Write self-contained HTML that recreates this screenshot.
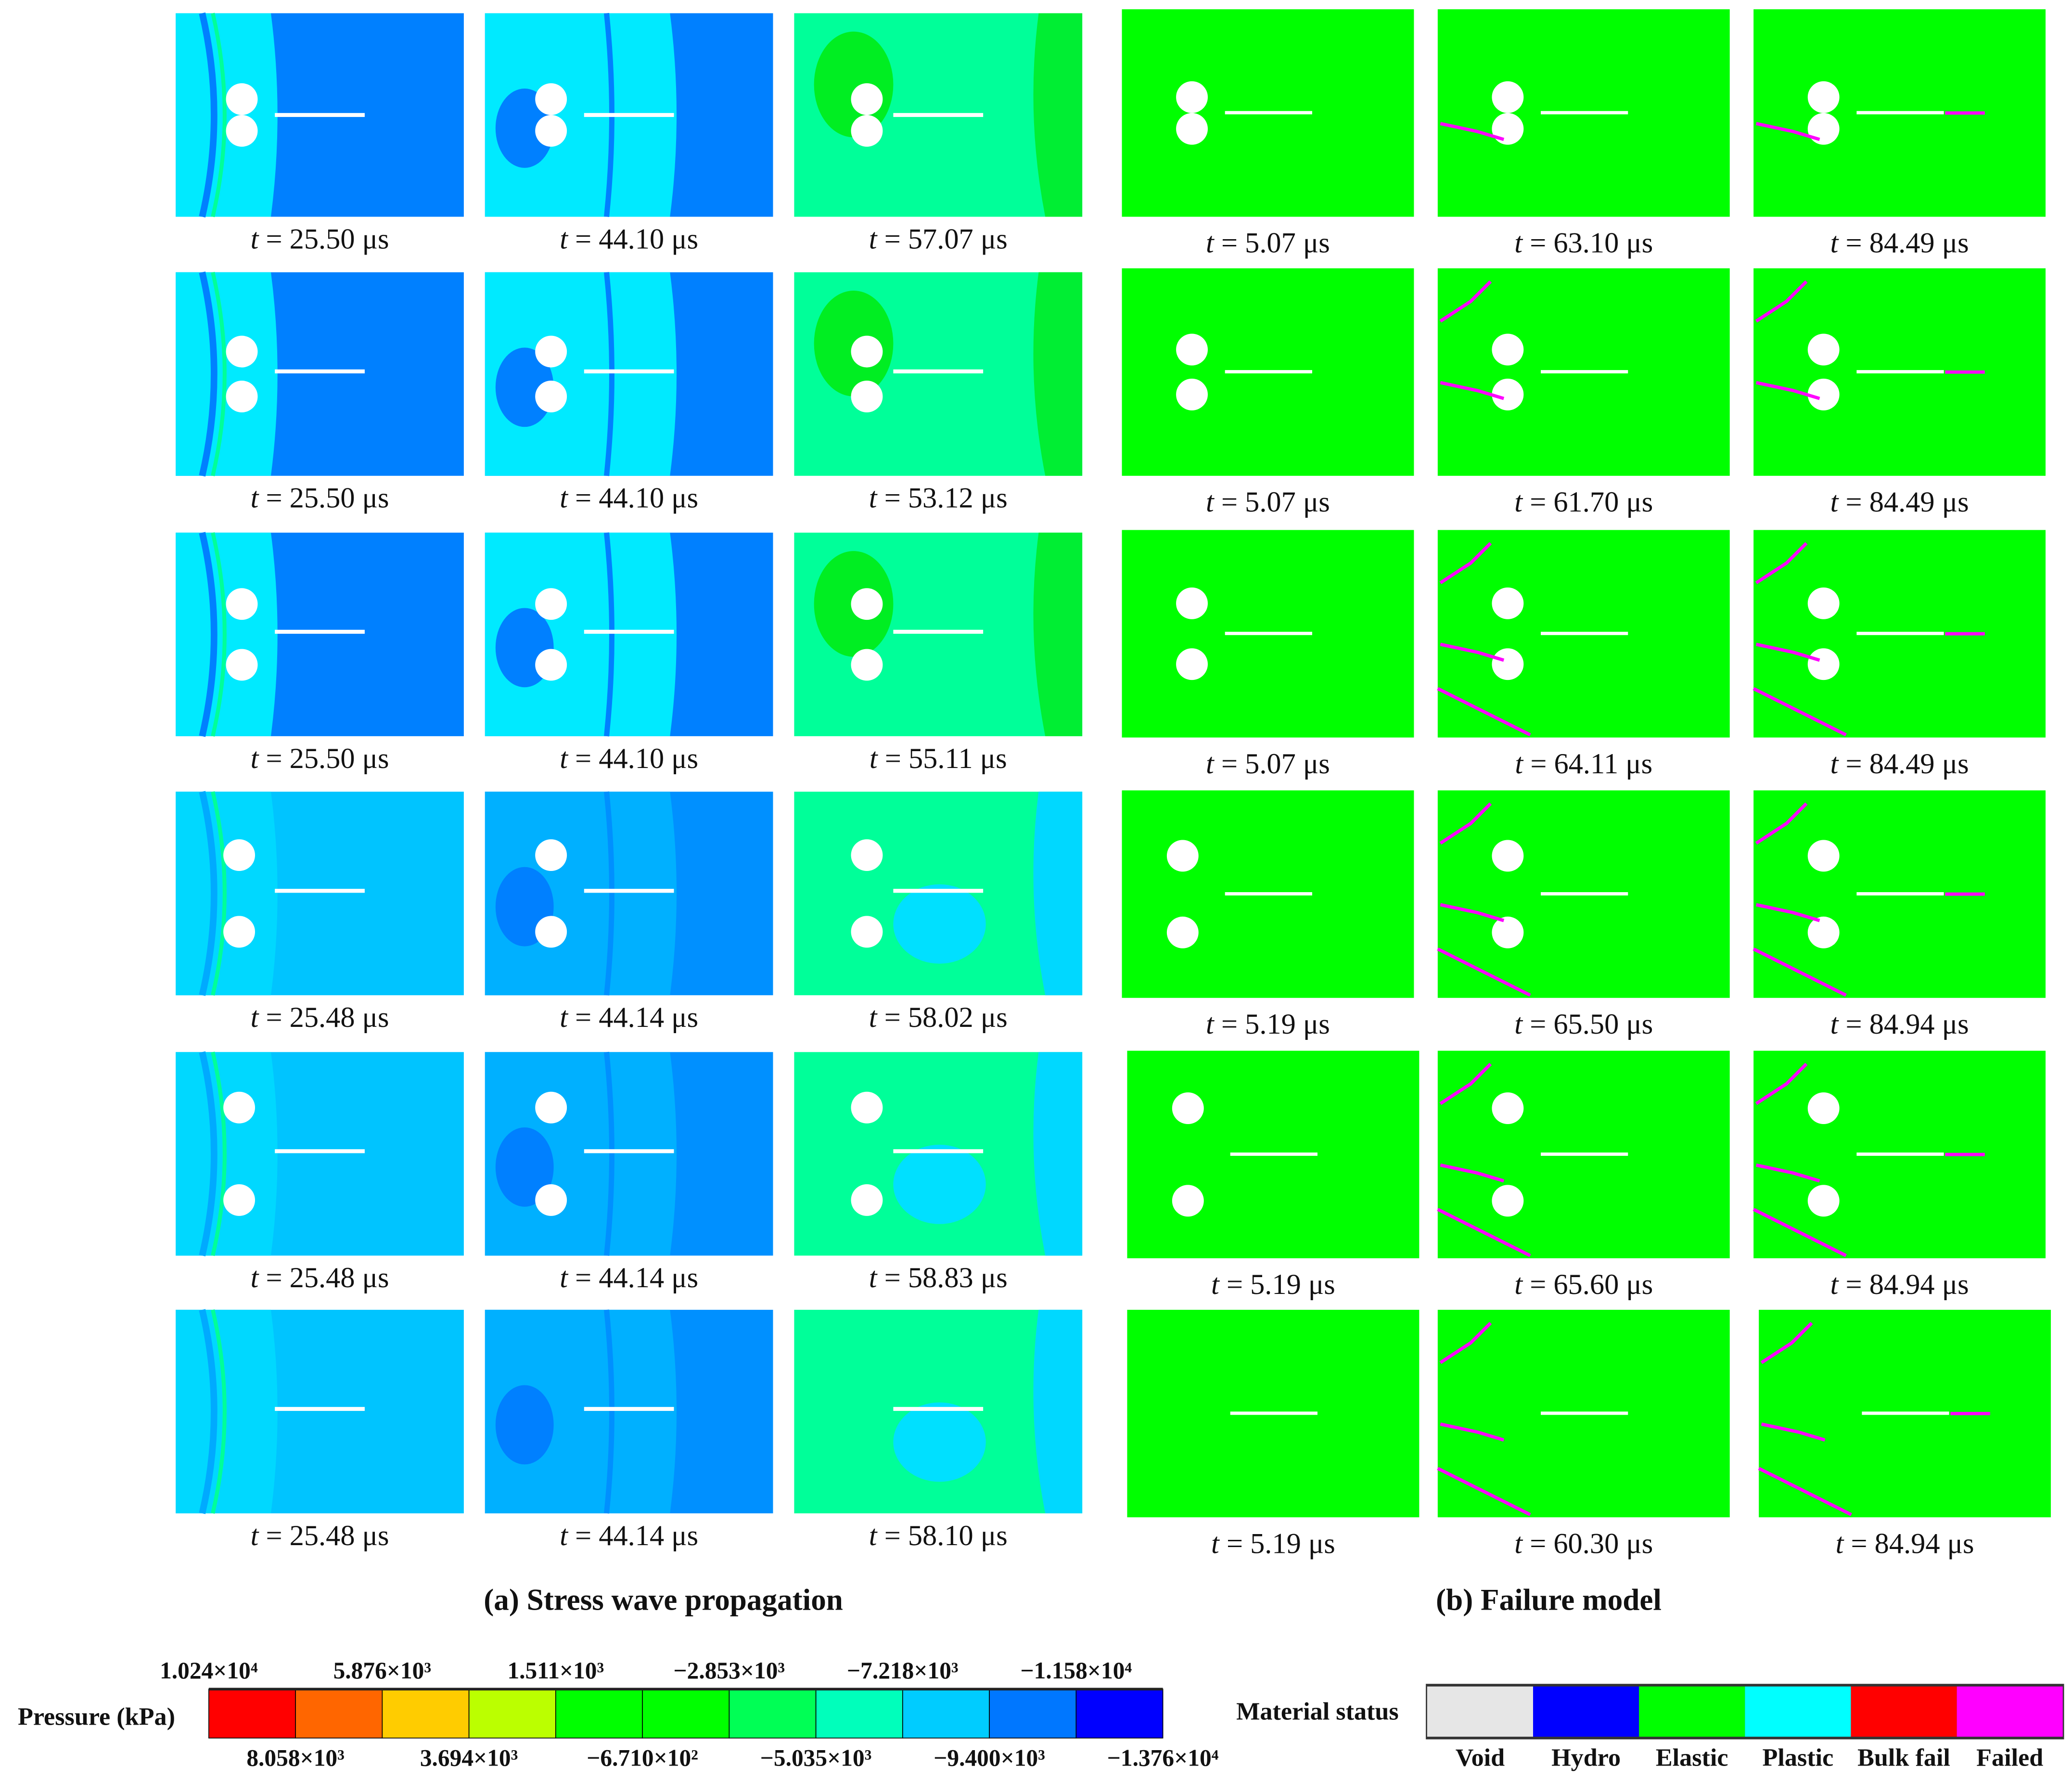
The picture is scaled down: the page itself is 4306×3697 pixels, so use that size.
<!DOCTYPE html>
<html><head><meta charset="utf-8"><style>
html,body{margin:0;padding:0;background:#fff}
svg{display:block}
text{font-family:"Liberation Serif",serif;fill:#111}
</style></head><body>
<svg id="fig" xmlns="http://www.w3.org/2000/svg" width="4306" height="3697" viewBox="0 0 1568 1346" preserveAspectRatio="none">
<rect width="1568" height="1346" fill="#fff"/>
<text x="502" y="1218" text-anchor="middle" font-size="23" font-weight="bold">(a) Stress wave propagation</text>
<text x="1172" y="1218" text-anchor="middle" font-size="23" font-weight="bold">(b) Failure model</text>
<text x="73" y="1305" text-anchor="middle" font-size="19" font-weight="bold">Pressure (kPa)</text>
<text x="997" y="1301" text-anchor="middle" font-size="19" font-weight="bold">Material status</text>
</svg>
<script>
const NS="http://www.w3.org/2000/svg";
const svg=document.getElementById('fig');
function mk(tag,attrs,parent){const e=document.createElementNS(NS,tag);for(const k in attrs)e.setAttribute(k,attrs[k]);(parent||svg).appendChild(e);return e;}

const leftTimes=[["25.50","44.10","57.07"],["25.50","44.10","53.12"],["25.50","44.10","55.11"],["25.48","44.14","58.02"],["25.48","44.14","58.83"],["25.48","44.14","58.10"]];
const rightTimes=[["5.07","63.10","84.49"],["5.07","61.70","84.49"],["5.07","64.11","84.49"],["5.19","65.50","84.94"],["5.19","65.60","84.94"],["5.19","60.30","84.94"]];
const leftCols=[133,367,601];
const leftTops=[10,206,403,599,796,991];
const rightCols=[849,1088,1327];
const rightTops=[7,203,401,598,795,991];
const holeGap=[24,34,46,58,70,0];

const pW=218,pH=154,rW=221,rH=157;

leftTops.forEach((y,r)=>{
  leftCols.forEach((x,c)=>{
    const g=mk('g',{});
    
    
    const late=r>=3;
    if(c===0){
      mk('rect',{x:x,y:y,width:pW,height:pH,fill:late?'#00c4ff':'#0080ff'},g);
      mk('path',{d:`M${x} ${y} L${x+72} ${y} Q${x+82} ${y+pH/2} ${x+72} ${y+pH} L${x} ${y+pH}Z`,fill:late?'#00d8ff':'#00eaff'},g);
      mk('path',{d:`M${x+20} ${y} Q${x+38} ${y+pH/2} ${x+20} ${y+pH}`,fill:'none',stroke:late?'#00aaff':'#0080ff',"stroke-width":5},g);
      mk('path',{d:`M${x+28} ${y} Q${x+46} ${y+pH/2} ${x+28} ${y+pH}`,fill:'none',stroke:'#00ff99',"stroke-width":3},g);
    }else if(c===1){
      mk('rect',{x:x,y:y,width:pW,height:pH,fill:late?'#0090ff':'#0080ff'},g);
      mk('path',{d:`M${x} ${y} L${x+140} ${y} Q${x+150} ${y+pH/2} ${x+140} ${y+pH} L${x} ${y+pH}Z`,fill:late?'#00b0ff':'#00eaff'},g);
      mk('path',{d:`M${x+92} ${y} Q${x+100} ${y+pH/2} ${x+92} ${y+pH}`,fill:'none',stroke:late?'#0090ff':'#0080ff',"stroke-width":4},g);
      mk('ellipse',{cx:x+30,cy:y+pH/2+10,rx:22,ry:30,fill:'#0080ff'},g);
    }else{
      mk('rect',{x:x,y:y,width:pW,height:pH,fill:'#00ff99'},g);
      mk('path',{d:`M${x+185} ${y} Q${x+175} ${y+pH/2} ${x+190} ${y+pH} L${x+pW} ${y+pH} L${x+pW} ${y}Z`,fill:late?'#00d8ff':'#00ee33'},g);
      mk('ellipse',{cx:late?x+110:x+45,cy:late?y+pH*0.65:y+pH*0.35,rx:late?35:30,ry:late?30:40,fill:late?'#00e0ff':'#00ee22'},g);
    }
    const cx=x+(c===2?55:50)-(r>=3&&c===0?2:0);
    const cy=y+pH/2;
    if(r<5){
      const gap=holeGap[r];
      mk('circle',{cx:cx,cy:cy-gap/2,r:12,fill:'#fff'},g);
      mk('circle',{cx:cx,cy:cy+gap/2,r:12,fill:'#fff'},g);
    }
    mk('rect',{x:x+75,y:cy-1.5-(r===0?0:2),width:68,height:3,fill:'#fff'},g);
    const t=mk('text',{x:x+pW/2,y:y+pH+24,"text-anchor":"middle","font-size":22});
    
    
    t.innerHTML='<tspan font-style="italic">t</tspan> = '+leftTimes[r][c]+' μs';
  });
});

rightTops.forEach((y,r)=>{
  rightCols.forEach((x,c)=>{
    const xx=(r>=4&&c===0)?853:(r===5&&c===2?1331:x);
    const g=mk('g',{});
    
    
    mk('rect',{x:xx,y:y,width:rW,height:rH,fill:'#00ff00'},g);
    const cx=xx+(r>=3&&c===0?46:53), cy=y+rH/2;
    if(r<5){
      const gap=holeGap[r];
      mk('circle',{cx:cx,cy:cy-gap/2,r:12,fill:'#fff'},g);
      mk('circle',{cx:cx,cy:cy+gap/2,r:12,fill:'#fff'},g);
    }
    mk('rect',{x:xx+78,y:cy-1.5,width:66,height:2.5,fill:'#fff'},g);
    if(c>0){
      const pk={fill:'none',stroke:'#ff00ff',"stroke-width":2.5};
      mk('path',Object.assign({d:`M${xx+2} ${cy+8} L${xx+30} ${cy+14} L${xx+50} ${cy+20}`},pk),g);
      if(r>=1) mk('path',Object.assign({d:`M${xx+2} ${y+40} L${xx+25} ${y+25} L${xx+40} ${y+10}`},pk),g);
      if(r>=2) mk('path',Object.assign({d:`M${xx} ${y+120} L${xx+40} ${y+140} L${xx+70} ${y+155}`},pk),g);
      if(c===2) mk('path',Object.assign({d:`M${xx+145} ${cy} L${xx+175} ${cy}`},pk),g);
    }
    const t=mk('text',{x:xx+rW/2,y:y+rH+27,"text-anchor":"middle","font-size":22});
    
    
    t.innerHTML='<tspan font-style="italic">t</tspan> = '+rightTimes[r][c]+' μs';
  });
});

const pressureColors=['#ff0000','#ff6600','#ffcc00','#bbff00','#00ff00','#00ff00','#00ff55','#00ffbb','#00ccff','#0077ff','#0000ff'];
const pressureTopLabels=['1.024×10⁴','5.876×10³','1.511×10³','−2.853×10³','−7.218×10³','−1.158×10⁴'];
const pressureBottomLabels=['8.058×10³','3.694×10³','−6.710×10²','−5.035×10³','−9.400×10³','−1.376×10⁴'];
const cbX=158,cbW=722,cbY=1278,cbH=37,seg=cbW/pressureColors.length;
pressureColors.forEach((col,i)=>{
  const r=mk('rect',{x:cbX+i*seg,y:cbY,width:seg,height:cbH,fill:col,stroke:'#000',"stroke-width":0.6});
  
  
});
mk('rect',{x:cbX,y:cbY-1,width:cbW,height:2,fill:'#222'});
pressureTopLabels.forEach((s,i)=>{
  const t=mk('text',{x:cbX+i*2*seg,y:1270,"text-anchor":"middle","font-size":18,"font-weight":"bold"});
  
  
  t.textContent=s;
});
pressureBottomLabels.forEach((s,i)=>{
  const t=mk('text',{x:cbX+(i*2+1)*seg,y:1336,"text-anchor":"middle","font-size":18,"font-weight":"bold"});
  
  
  t.textContent=s;
});

const statusColors=['#e6e6e6','#0000ff','#00ff00','#00ffff','#ff0000','#ff00ff'];
const statusLabels=['Void','Hydro','Elastic','Plastic','Bulk fail','Failed'];
const msX=1080,msW=481,msY=1276,msH=38,ms=msW/statusColors.length;
mk('rect',{x:msX-1,y:msY-2,width:msW+2,height:msH+4,fill:'#333'});
statusColors.forEach((col,i)=>{
  const r=mk('rect',{x:msX+i*ms,y:msY,width:ms,height:msH,fill:col});
  
  
  const t=mk('text',{x:msX+(i+0.5)*ms,y:1336,"text-anchor":"middle","font-size":19,"font-weight":"bold"});
  
  
  t.textContent=statusLabels[i];
});
</script>
</body></html>
